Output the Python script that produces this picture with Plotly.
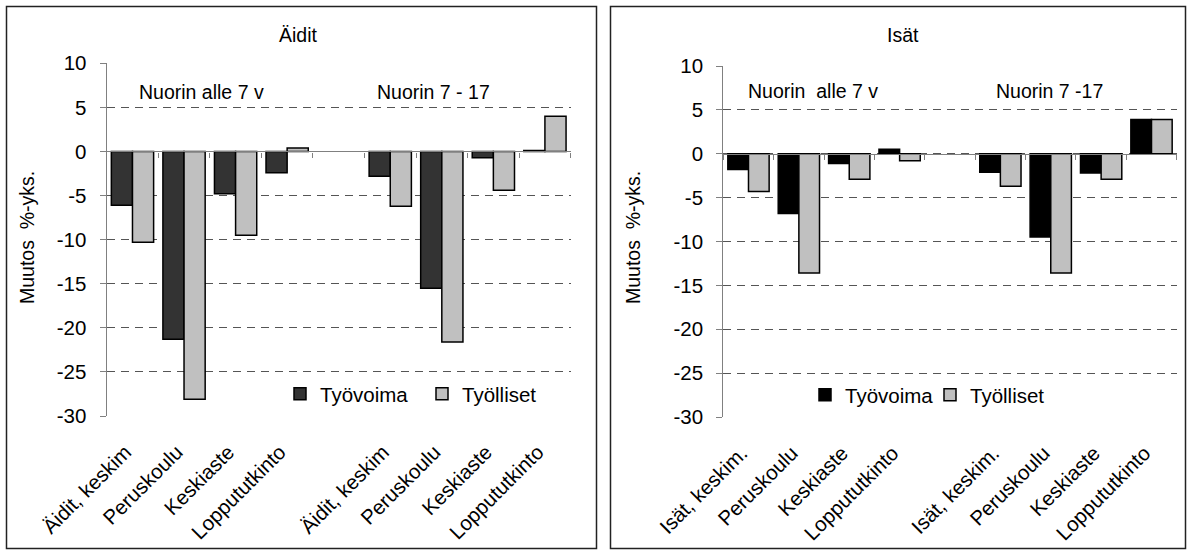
import plotly.graph_objects as go

W, H = 1188, 552

# ---------------- data ----------------
categories_left = ["Äidit, keskim", "Peruskoulu", "Keskiaste", "Loppututkinto"]
categories_right = ["Isät, keskim.", "Peruskoulu", "Keskiaste", "Loppututkinto"]
groups_left = ["Nuorin alle 7 v", "Nuorin 7 - 17"]
groups_right = ["Nuorin  alle 7 v", "Nuorin 7 -17"]
series_names = ["Työvoima", "Työlliset"]

aidit_tyovoima = [-6.1, -21.3, -4.8, -2.4, -2.8, -15.5, -0.7, 0.1]
aidit_tyolliset = [-10.3, -28.1, -9.5, 0.4, -6.2, -21.6, -4.4, 4.0]
isat_tyovoima = [-1.8, -6.8, -1.1, 0.5, -2.1, -9.5, -2.2, 3.9]
isat_tyolliset = [-4.3, -13.6, -2.9, -0.8, -3.7, -13.6, -2.9, 3.9]

y_ticks = [10, 5, 0, -5, -10, -15, -20, -25, -30]
y_ticklabels = ["10", "5", "0", "-5", "-10", "-15", "-20", "-25", "-30"]
panel_titles = ["Äidit", "Isät"]
y_title = "Muutos  %-yks."

FONT = "Arial, Liberation Sans, sans-serif"
FS = 19.5      # titles / annotations
FS_TICK = 20.5  # tick labels and legend


def X(px):
    return px / W


def Y(py):
    return 1 - py / H


# slot positions: group 1, empty slot, group 2
n = len(categories_left)
slots = list(range(n)) + [i + n + 1 for i in range(n)]
nslots = 2 * n + 1
boundaries = [i - 0.5 for i in range(nslots + 1)]

fig = go.Figure()

panels = [
    dict(xa="x", ya="y", xlab="x3", cats=categories_left, groups=groups_left,
         s1=aidit_tyovoima, s2=aidit_tyolliset, c1="#333333", legend="legend",
         dom_x=(106.7, 570.7), dom_y=(63.3, 416.0)),
    dict(xa="x2", ya="y2", xlab="x4", cats=categories_right, groups=groups_right,
         s1=isat_tyovoima, s2=isat_tyolliset, c1="#000000", legend="legend2",
         dom_x=(723.3, 1176.7), dom_y=(66.0, 417.0)),
]

for p in panels:
    fig.add_trace(go.Bar(x=slots, y=p["s1"], name=series_names[0], xaxis=p["xa"], yaxis=p["ya"],
                         marker=dict(color=p["c1"], line=dict(color="black", width=1.5)),
                         legend=p["legend"]))
    fig.add_trace(go.Bar(x=slots, y=p["s2"], name=series_names[1], xaxis=p["xa"], yaxis=p["ya"],
                         marker=dict(color="#c0c0c0", line=dict(color="black", width=1.5)),
                         legend=p["legend"]))
    # invisible trace so the label axis is drawn
    fig.add_trace(go.Scatter(x=[], y=[], xaxis=p["xlab"], yaxis=p["ya"], showlegend=False,
                             hoverinfo="skip"))

layout = dict(
    template="none",
    width=W, height=H, margin=dict(l=0, r=0, t=0, b=0, pad=0, autoexpand=False),
    paper_bgcolor="white", plot_bgcolor="white",
    barmode="group", bargap=0.18, bargroupgap=0,
    font=dict(family=FONT, size=FS, color="black"),
    showlegend=True,
)

axis_ids = [("xaxis", "yaxis", "xaxis3", "y", "x"), ("xaxis2", "yaxis2", "xaxis4", "y2", "x2")]
for p, (xk, yk, xlk, yref, xref) in zip(panels, axis_ids):
    x0, x1 = p["dom_x"]
    ytop, ybot = p["dom_y"]
    ydom = [Y(ybot), Y(ytop)]
    zero_pos = ydom[0] + (0 - (-30)) / (10 - (-30)) * (ydom[1] - ydom[0])
    layout[xk] = dict(domain=[X(x0), X(x1)], range=[-0.5, nslots - 0.5], anchor="free",
                      position=zero_pos, showline=True, linecolor="#808080", linewidth=1.3,
                      ticks="outside", ticklen=5, tickcolor="#808080", tickwidth=1.3,
                      tickmode="array", tickvals=boundaries, showticklabels=False,
                      showgrid=False, zeroline=False, fixedrange=True, automargin=False)
    layout[xlk] = dict(overlaying=xref, anchor=yref, side="bottom", range=[-0.5, nslots - 0.5],
                       tickmode="array", tickvals=[s - 0.14 for s in slots],
                       ticktext=p["cats"] + p["cats"], tickangle=-45,
                       ticks="outside", ticklen=15, tickcolor="rgba(0,0,0,0)",
                       showline=False, showgrid=False, zeroline=False, automargin=False,
                       tickfont=dict(family=FONT, size=FS_TICK, color="black"))
    layout[yk] = dict(domain=ydom, anchor=xref, range=[-30, 10], tickmode="array",
                      tickvals=y_ticks, ticktext=y_ticklabels,
                      showline=True, linecolor="#808080", linewidth=1.3,
                      ticks="outside", ticklen=6, tickcolor="#808080", tickwidth=1.3,
                      showgrid=True, gridcolor="#555555", gridwidth=1, griddash="8px,6px",
                      zeroline=False, ticklabelstandoff=9, automargin=False,
                      tickfont=dict(family=FONT, size=FS_TICK, color="black"))

layout["legend"] = dict(orientation="h", x=X(280), xanchor="left", y=Y(394), yanchor="middle",
                        entrywidth=97, font=dict(family=FONT, size=FS_TICK), bgcolor="rgba(0,0,0,0)")
layout["legend2"] = dict(orientation="h", x=X(805), xanchor="left", y=Y(395), yanchor="middle",
                         entrywidth=80, font=dict(family=FONT, size=FS_TICK), bgcolor="rgba(0,0,0,0)")

fig.update_layout(**layout)

# frames around each chart
fig.add_shape(type="rect", xref="paper", yref="paper", x0=X(6.5), x1=X(596.5), y0=Y(548.5), y1=Y(6.5),
              line=dict(color="#222222", width=1.5))
fig.add_shape(type="rect", xref="paper", yref="paper", x0=X(610.5), x1=X(1185.5), y0=Y(548.5), y1=Y(6.5),
              line=dict(color="#222222", width=1.5))

# panel titles
for t, cx in zip(panel_titles, [298, 903]):
    fig.add_annotation(text=t, x=X(cx), y=Y(35), xref="paper", yref="paper", showarrow=False,
                       font=dict(family=FONT, size=FS), xanchor="center", yanchor="middle")

# y titles
for cx in [27, 633]:
    fig.add_annotation(text=y_title, x=X(cx), y=Y(238), xref="paper", yref="paper", showarrow=False,
                       textangle=-90, font=dict(family=FONT, size=FS), xanchor="center", yanchor="middle")

# group labels
group_pos = [((201.7, 91.7), (433.0, 91.7)), ((813.0, 90.7), (1049.7, 90.7))]
for p, poss in zip(panels, group_pos):
    for g, (cx, cy) in zip(p["groups"], poss):
        fig.add_annotation(text=g, x=X(cx), y=Y(cy), xref="paper", yref="paper", showarrow=False,
                           font=dict(family=FONT, size=FS), xanchor="center", yanchor="middle")

fig.write_html("out.html", config={"displayModeBar": False},
               post_script="document.body.style.margin='0px';")
